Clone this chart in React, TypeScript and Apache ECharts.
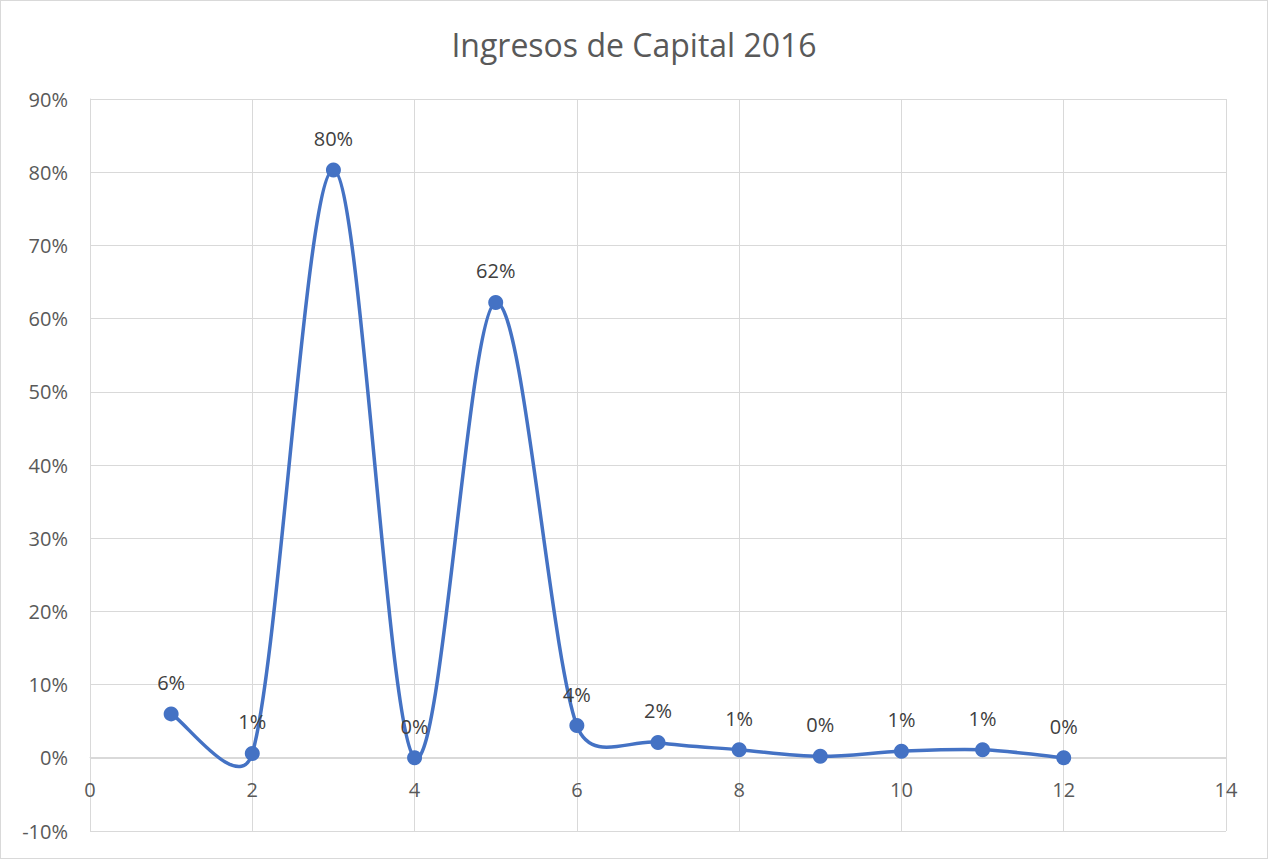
import React, { useEffect, useRef } from "react";
import * as echarts from "echarts";

const titleText = "Ingresos de Capital 2016";
const xValues = [1, 2, 3, 4, 5, 6, 7, 8, 9, 10, 11, 12];
const yValues = [0.06, 0.006, 0.803, 0.0, 0.622, 0.044, 0.021, 0.011, 0.002, 0.009, 0.011, 0.0];
const xTicks = { min: 0, max: 14, interval: 2 };
const yTicks = { min: -0.1, max: 0.9, interval: 0.1 };

const FONT = "'Open Sans', 'Noto Sans', sans-serif";
const BLUE = "#4472C4";
const GRID_TOP = 98;
const GRID_BOTTOM = 27;
const CHART_H = 859;

// Excel-like smoothed segment (Bezier, arm = 1/6 of neighbour chord, limited to half the segment)
function excelSegment(pts: number[][], i: number): string {
  const p0 = pts[Math.max(i - 1, 0)];
  const p1 = pts[i];
  const p2 = pts[i + 1];
  const p3 = pts[Math.min(i + 2, pts.length - 1)];
  const dist = (a: number[], b: number[]) => Math.hypot(a[0] - b[0], a[1] - b[1]);
  const seg = dist(p1, p2);
  const d02 = dist(p0, p2);
  const d13 = dist(p1, p3);
  const f1 = d02 > 0 ? Math.min(1 / 6, seg / 2 / d02) : 0;
  const f2 = d13 > 0 ? Math.min(1 / 6, seg / 2 / d13) : 0;
  const c1 = [p1[0] + (p2[0] - p0[0]) * f1, p1[1] + (p2[1] - p0[1]) * f1];
  const c2 = [p2[0] - (p3[0] - p1[0]) * f2, p2[1] - (p3[1] - p1[1]) * f2];
  return `M${p1[0]},${p1[1]} C${c1[0]},${c1[1]} ${c2[0]},${c2[1]} ${p2[0]},${p2[1]}`;
}

export default function App() {
  const ref = useRef<HTMLDivElement>(null);
  useEffect(() => {
    document.body.style.margin = "0";
    if (!ref.current) return;
    const chart = echarts.init(ref.current, undefined, { renderer: "svg" });
    const pct = (v: number) => `${Math.round(v * 100)}%`;
    const points = xValues.map((x, i) => [x, yValues[i]]);
    // place the x axis at y = 0 (Excel crosses there)
    const plotH = CHART_H - GRID_TOP - GRID_BOTTOM;
    const zeroOffset = -plotH * ((0 - yTicks.min) / (yTicks.max - yTicks.min));
    chart.setOption({
      animation: false,
      backgroundColor: "#ffffff",
      title: {
        text: titleText,
        left: "center",
        top: 22,
        textStyle: { fontFamily: FONT, fontSize: 32, fontWeight: "normal", color: "#595959" },
      },
      grid: { left: 89, right: 41, top: GRID_TOP, bottom: GRID_BOTTOM, containLabel: false, outerBoundsMode: "none" },
      xAxis: {
        type: "value",
        ...xTicks,
        offset: zeroOffset,
        axisLine: { show: true, onZero: false, lineStyle: { color: "#d9d9d9", width: 1 } },
        axisTick: { show: false },
        axisLabel: { margin: 22, fontFamily: FONT, fontSize: 20, color: "#595959" },
        splitLine: { show: true, lineStyle: { color: "#d9d9d9", width: 1 } },
      },
      yAxis: {
        type: "value",
        ...yTicks,
        axisLine: { show: true, onZero: false, lineStyle: { color: "#d9d9d9", width: 1 } },
        axisTick: { show: false },
        axisLabel: {
          margin: 22,
          fontFamily: FONT,
          fontSize: 20,
          color: "#595959",
          formatter: (v: number) => pct(v),
        },
        splitLine: { show: true, lineStyle: { color: "#d9d9d9", width: 1 } },
      },
      series: [
        {
          type: "custom",
          coordinateSystem: "cartesian2d",
          data: points,
          encode: { x: 0, y: 1 },
          silent: true,
          clip: false,
          z: 2,
          renderItem: (params: any, api: any) => {
            const i = params.dataIndex;
            if (i >= points.length - 1) return null;
            const px = points.map((p) => api.coord(p));
            return {
              type: "path",
              shape: { pathData: excelSegment(px, i) },
              style: { fill: "none", stroke: BLUE, lineWidth: 3.5, lineCap: "round" },
            };
          },
        },
        {
          type: "scatter",
          data: points,
          symbol: "circle",
          symbolSize: 15,
          z: 3,
          itemStyle: { color: BLUE, opacity: 1 },
          label: {
            show: true,
            position: "top",
            distance: 14,
            fontFamily: FONT,
            fontSize: 20,
            color: "#404040",
            formatter: (p: any) => pct(p.value[1]),
          },
        },
      ],
    });
    return () => chart.dispose();
  }, []);
  return (
    <div
      ref={ref}
      style={{
        position: "absolute",
        left: 0,
        top: 0,
        width: 1268,
        height: 859,
        boxSizing: "border-box",
        border: "1px solid #d9d9d9",
      }}
    />
  );
}
